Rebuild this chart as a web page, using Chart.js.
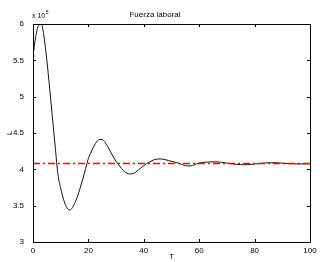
<!DOCTYPE html>
<html>
<head>
<meta charset="utf-8">
<script src="https://cdn.jsdelivr.net/npm/chart.js@4/dist/chart.umd.min.js"></script>
<style>
html,body{margin:0;padding:0;background:#fff;}
#wrap{width:326px;height:262px;}
</style>
</head>
<body>
<div id="wrap"><canvas id="c" width="326" height="262"></canvas></div>
<script>
// Data (L in units of 10^5)
const T = [0,1,2,3,4,5,6,7,8,9,10,11,12,13,14,15,16,17,18,19,20,21,22,23,24,25,26,27,28,29,30,31,32,33,34,35,36,37,38,39,40,41,42,43,44,45,46,47,48,49,50,51,52,53,54,55,56,57,58,59,60,61,62,63,64,65,66,67,68,69,70,71,72,73,74,75,76,77,78,79,80,81,82,83,84,85,86,87,88,89,90,92,94,96,98,100];
const L = [5.56,5.83,5.98,6.00,5.82,5.50,5.12,4.72,4.32,3.93,3.74,3.59,3.49,3.44,3.46,3.53,3.62,3.74,3.87,4.01,4.15,4.24,4.32,4.38,4.41,4.41,4.37,4.31,4.24,4.17,4.11,4.06,4.01,3.97,3.945,3.936,3.94,3.96,3.99,4.02,4.05,4.08,4.10,4.12,4.135,4.142,4.143,4.14,4.13,4.12,4.11,4.10,4.09,4.078,4.065,4.052,4.046,4.048,4.06,4.075,4.085,4.092,4.097,4.10,4.102,4.103,4.102,4.10,4.097,4.092,4.086,4.08,4.075,4.07,4.067,4.065,4.064,4.064,4.066,4.069,4.073,4.077,4.081,4.085,4.088,4.09,4.091,4.091,4.09,4.088,4.085,4.08,4.076,4.074,4.075,4.077];
const steadyT = [0,100];
const steadyL = [4.08,4.08];
const initT = [0];
const initL = [5.56];
const xTicks = [0,20,40,60,80,100];
const yTicks = [3,3.5,4,4.5,5,5.5,6];
const titleText = 'Fuerza laboral';
const xLabel = 'T';
const yLabel = 'L';

const FONT = "'Liberation Sans', Arial, Helvetica, sans-serif";

const boxPlugin = {
  id:'box',
  afterDraw(chart){
    const {ctx, chartArea:a, scales:{x,y}} = chart;
    ctx.save();
    ctx.strokeStyle = '#000';
    ctx.lineWidth = 1;
    ctx.beginPath();
    ctx.rect(Math.round(a.left)+0.5, Math.round(a.top)+0.5, Math.round(a.right-a.left), Math.round(a.bottom-a.top));
    const tl = 3;
    xTicks.forEach(v=>{
      const px = Math.round(x.getPixelForValue(v))+0.5;
      ctx.moveTo(px, a.bottom); ctx.lineTo(px, a.bottom-tl);
      ctx.moveTo(px, a.top); ctx.lineTo(px, a.top+tl);
    });
    yTicks.forEach(v=>{
      const py = Math.round(y.getPixelForValue(v))+0.5;
      ctx.moveTo(a.left, py); ctx.lineTo(a.left+tl, py);
      ctx.moveTo(a.right, py); ctx.lineTo(a.right-tl, py);
    });
    ctx.stroke();
    // exponent label
    ctx.fillStyle = '#000';
    ctx.textBaseline = 'middle';
    ctx.textAlign = 'left';
    ctx.font = '7px ' + FONT;
    ctx.fillText('x 10', a.left-1, a.top-8);
    const w = ctx.measureText('x 10').width;
    ctx.font = '5px ' + FONT;
    ctx.fillText('5', a.left-1+w+0.5, a.top-11);
    // y label
    ctx.font = '8px ' + FONT;
    ctx.translate(10, (a.top+a.bottom)/2);
    ctx.rotate(-Math.PI/2);
    ctx.textAlign = 'center';
    ctx.fillText(yLabel, 0, 0);
    ctx.restore();
  }
};

new Chart(document.getElementById('c'), {
  type:'line',
  data:{
    datasets:[
      {data: initT.map((t,i)=>({x:t,y:initL[i]})), showLine:false, pointRadius:1.5, pointBackgroundColor:'#0000ff', pointBorderColor:'#0000ff', borderWidth:0, order:-1},
      {data: steadyT.map((t,i)=>({x:t,y:steadyL[i]})), borderColor:'#ff0000', borderWidth:1.5, borderDash:[7,3,2,3], pointRadius:0, fill:false, order:0},
      {data: T.map((t,i)=>({x:t,y:L[i]})), borderColor:'#111', borderWidth:1, pointRadius:0, fill:false, cubicInterpolationMode:'monotone', order:1}
    ]
  },
  options:{
    responsive:false,
    animation:false,
    events:[],
    layout:{padding:{left:0,right:16,top:0,bottom:0}},
    plugins:{
      legend:{display:false},
      tooltip:{enabled:false},
      title:{display:true, text:titleText, color:'#000', font:{family:FONT, size:8, weight:'normal'}, padding:{top:10,bottom:4.4}}
    },
    scales:{
      x:{type:'linear', min:0, max:100,
        afterFit(s){ s.height = 20; },
        afterBuildTicks(s){ s.ticks = xTicks.map(v=>({value:v})); },
        grid:{display:false, drawTicks:false}, border:{display:false},
        ticks:{padding:4, color:'#000', font:{family:FONT,size:8}, maxRotation:0, callback:v=>String(v)},
        title:{display:true, text:xLabel, color:'#000', font:{family:FONT,size:8}, padding:{top:-1,bottom:0}}
      },
      y:{type:'linear', min:3, max:6,
        afterFit(s){ s.width = 33; },
        afterBuildTicks(s){ s.ticks = yTicks.map(v=>({value:v})); },
        grid:{display:false, drawTicks:false}, border:{display:false},
        ticks:{padding:9, color:'#000', font:{family:FONT,size:8}, callback:v=>String(v)}
      }
    }
  },
  plugins:[boxPlugin]
});
</script>
</body>
</html>
